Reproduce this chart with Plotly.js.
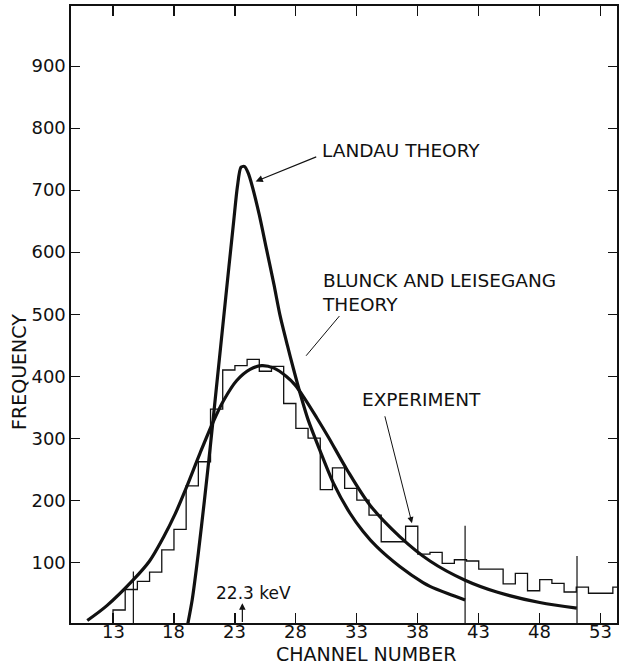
<!DOCTYPE html>
<html>
<head>
<meta charset="utf-8">
<script src="https://cdn.plot.ly/plotly-3.0.1.min.js"></script>
<style>html,body{margin:0;padding:0;background:#fff;}#chart{width:620px;height:670px;}</style>
</head>
<body>
<div id="chart"></div>
<script>
// Histogram (experiment): left edge of each one-channel bin and its count
const channels = [13,14,15,16,17,18,19,20,21,22,23,24,25,26,27,28,29,30,31,32,33,34,35,36,37,38,39,40,41,42,43,44,45,46,47,48,49,50,51,52,53,54];
const counts   = [23,56,69,84,120,153,223,262,347,410,417,427,408,416,356,316,300,217,252,219,200,176,133,133,158,113,116,98,104,102,89,89,65,82,54,72,66,52,60,50,50,60];

// Landau theory curve
const landauX = [19.13,19.5,20.0,20.5,21.0,21.5,22.0,22.5,22.9,23.2,23.5,23.8,24.1,24.4,25.0,25.6,26.2,26.7,27.3,27.8,28.34,29.0,29.98,31.07,32.44,33.5,34.63,36.52,38.43,39.0,40.5,41.88];
const landauY = [0,40,115,200,290,385,480,575,650,705,737,738,727,708,660,604,548,498,450,412,373,330,280,228,179,150,125,93,67,61,49,39];

// Blunck and Leisegang theory curve
const blunckX = [10.89,12.5,14.64,16.0,17.13,18.1,19.05,20.14,21.23,22.05,23.15,24.24,25.2,26.2,27.2,27.93,28.75,29.71,30.66,32.17,34.08,36.54,39.0,41.88,44.48,48.0,51.04];
const blunckY = [6,30,71,102,140,178,222,276,327,360,393,411,417,413,400,386,363,333,302,250,192,141,102,71,52,35,26];

// Vertical marker lines (channel, height)
const markerX = [14.67,41.88,51.06];
const markerTop = [85,159,110];

const xTicks = [13,18,23,28,33,38,43,48,53];
const yTicks = [100,200,300,400,500,600,700,800,900];

const ink = '#111';
const font = 'DejaVu Sans, Liberation Sans, sans-serif';

const histX = [channels[0]].concat(channels, [channels[channels.length-1] + 1]);
const histY = [0].concat(counts, [counts[counts.length-1]]);

const mX = [], mY = [];
markerX.forEach((x, i) => { mX.push(x, x, null); mY.push(0, markerTop[i], null); });

const traces = [
  {x: histX, y: histY, mode: 'lines', line: {shape: 'hv', color: ink, width: 1.3}, hoverinfo: 'skip'},
  {x: mX, y: mY, mode: 'lines', line: {color: ink, width: 1.2}, hoverinfo: 'skip'},
  {x: landauX, y: landauY, mode: 'lines', line: {shape: 'spline', smoothing: 0.7, color: ink, width: 3.2}, hoverinfo: 'skip'},
  {x: blunckX, y: blunckY, mode: 'lines', line: {shape: 'spline', smoothing: 0.9, color: ink, width: 3.2}, hoverinfo: 'skip'}
];

const txt = (text, x, y, xa, ya, size) => ({text: text, x: x, y: y, xref: 'x', yref: 'y', xanchor: xa, yanchor: ya, align: 'left', showarrow: false, font: {family: font, size: size || 18.5, color: ink}});
const arrow = (hx, hy, tx, ty, head, w, sz) => ({text: ' ', x: hx, y: hy, ax: tx, ay: ty, xref: 'x', yref: 'y', axref: 'x', ayref: 'y', showarrow: true, arrowhead: head, arrowwidth: w, arrowsize: sz, arrowcolor: ink, font: {size: 1}, borderpad: 0, standoff: 0, startstandoff: 0});

const xLabelAnns = xTicks.map(v => ({text: String(v), x: v, xref: 'x', y: -0.0145, yref: 'paper', xanchor: 'center', yanchor: 'middle', showarrow: false, font: {family: font, size: 18, color: ink}}));

const layout = {
  width: 620, height: 670,
  margin: {l: 71, r: 3, t: 6, b: 47},
  paper_bgcolor: '#fff', plot_bgcolor: '#fff',
  showlegend: false,
  xaxis: {
    range: [9.555, 54.34], tickvals: xTicks, showticklabels: false,
    ticks: 'inside', ticklen: 10, tickwidth: 1.2, tickcolor: ink,
    showline: true, linecolor: ink, linewidth: 1.6, mirror: 'ticks',
    showgrid: false, zeroline: false
  },
  yaxis: {
    range: [2, 997], tickvals: yTicks, ticktext: yTicks.map(String),
    ticks: 'inside', ticklen: 9, tickwidth: 1.2, tickcolor: ink,
    showline: true, linecolor: ink, linewidth: 1.6, mirror: 'ticks',
    showgrid: false, zeroline: false,
    tickfont: {family: font, size: 18, color: ink}
  },
  annotations: xLabelAnns.concat([
    txt('LANDAU THEORY', 29.98, 764, 'left', 'middle'),
    txt('BLUNCK AND LEISEGANG<br>THEORY', 29.98, 534.5, 'left', 'middle'),
    txt('EXPERIMENT', 33.26, 362, 'left', 'middle'),
    txt('22.3 keV', 24.53, 50, 'center', 'middle', 17),
    arrow(24.7, 714, 29.71, 754, 2, 1.1, 1.3),
    arrow(37.52, 163, 35.28, 337, 2, 1.0, 1.2),
    arrow(23.61, 34, 23.61, 2, 2, 1.2, 1.1),
    {text: 'CHANNEL NUMBER', xref: 'paper', yref: 'paper', x: 0.541, y: -0.051, xanchor: 'center', yanchor: 'middle', showarrow: false, font: {family: font, size: 19, color: ink}},
    {text: 'FREQUENCY', xref: 'paper', yref: 'paper', x: -0.0952, y: 0.407, xanchor: 'center', yanchor: 'middle', textangle: -90, showarrow: false, font: {family: font, size: 19, color: ink}}
  ]),
  shapes: [
    {type: 'line', xref: 'x', yref: 'y', x0: 31.57, y0: 497, x1: 28.84, y1: 433, line: {color: ink, width: 1}}
  ]
};

Plotly.newPlot('chart', traces, layout, {displayModeBar: false, staticPlot: true});
</script>
</body>
</html>
